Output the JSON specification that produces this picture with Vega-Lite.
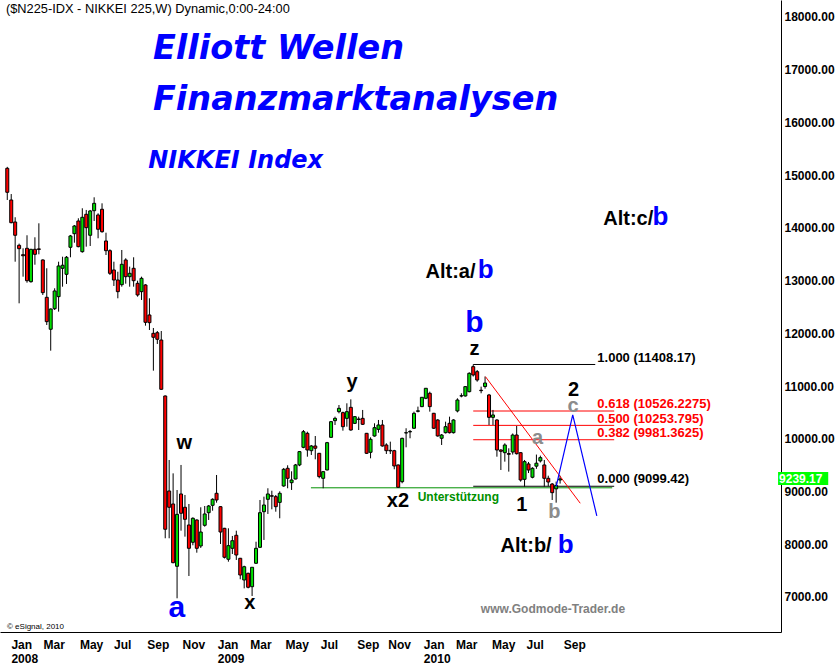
{
  "$schema": "https://vega.github.io/schema/vega-lite/v6.json",
  "width": 781,
  "height": 632,
  "autosize": {"type": "none"},
  "padding": {"left": 0, "top": 0, "right": 58, "bottom": 32},
  "background": "white",
  "config": {"view": {"stroke": null}, "font": "Liberation Sans"},
  "datasets": {
    "candles": [
      {"w":0,"o":15128,"h":15155,"l":14527,"c":14673},{"w":1,"o":14527,"h":14640,"l":14085,"c":14097},{"w":2,"o":14110,"h":14200,"l":13357,"c":13858},{"w":3,"o":13668,"h":13700,"l":12568,"c":13604},{"w":4,"o":13490,"h":13611,"l":13073,"c":13470},{"w":5,"o":13611,"h":13858,"l":12959,"c":12997},{"w":6,"o":12978,"h":13600,"l":12960,"c":13592},{"w":7,"o":13592,"h":13820,"l":13300,"c":13497},{"w":8,"o":13600,"h":14085,"l":13497,"c":13590},{"w":9,"o":13390,"h":13400,"l":12726,"c":12770},
      {"w":10,"o":12682,"h":13232,"l":12157,"c":12220},{"w":11,"o":12076,"h":12470,"l":11670,"c":12460},{"w":12,"o":12466,"h":12853,"l":12441,"c":12802},{"w":13,"o":12694,"h":13357,"l":12410,"c":13276},{"w":14,"o":13232,"h":13452,"l":12883,"c":13290},{"w":15,"o":13118,"h":13465,"l":12935,"c":13441},{"w":16,"o":13630,"h":13864,"l":13441,"c":13845},{"w":17,"o":13888,"h":14053,"l":13717,"c":14034},{"w":18,"o":14129,"h":14180,"l":13630,"c":13642},{"w":19,"o":13547,"h":14370,"l":13528,"c":14199},
      {"w":20,"o":14256,"h":14338,"l":13642,"c":14002},{"w":21,"o":13858,"h":14338,"l":13655,"c":14319},{"w":22,"o":14324,"h":14578,"l":14129,"c":14464},{"w":23,"o":14243,"h":14275,"l":13801,"c":13972},{"w":24,"o":14351,"h":14464,"l":13907,"c":13926},{"w":25,"o":13750,"h":13907,"l":13484,"c":13566},{"w":26,"o":13566,"h":13592,"l":13105,"c":13137},{"w":27,"o":13200,"h":13357,"l":12897,"c":13010},{"w":28,"o":13010,"h":13167,"l":12663,"c":12789},{"w":29,"o":12921,"h":13579,"l":12883,"c":13308},
      {"w":30,"o":13390,"h":13422,"l":12940,"c":13073},{"w":31,"o":13073,"h":13263,"l":12883,"c":13137},{"w":32,"o":13232,"h":13441,"l":12883,"c":12997},{"w":33,"o":12947,"h":12997,"l":12694,"c":12726},{"w":34,"o":12789,"h":13073,"l":12631,"c":13042},{"w":35,"o":12916,"h":12930,"l":12144,"c":12208},{"w":36,"o":12347,"h":12663,"l":12062,"c":12201},{"w":37,"o":11999,"h":12100,"l":11291,"c":11924},{"w":38,"o":12011,"h":12043,"l":11797,"c":11886},{"w":39,"o":11872,"h":12043,"l":10930,"c":10938},
      {"w":40,"o":10811,"h":10820,"l":8113,"c":8284},{"w":41,"o":9010,"h":9597,"l":8113,"c":8701},{"w":42,"o":8763,"h":9344,"l":7640,"c":7650},{"w":43,"o":7582,"h":9028,"l":6975,"c":8567},{"w":44,"o":8953,"h":9503,"l":8257,"c":8587},{"w":45,"o":8701,"h":8934,"l":8144,"c":8473},{"w":46,"o":8365,"h":8763,"l":7398,"c":7923},{"w":47,"o":8037,"h":8510,"l":7980,"c":8492},{"w":48,"o":8460,"h":8470,"l":7840,"c":7923},{"w":49,"o":7967,"h":8701,"l":7930,"c":8232},
      {"w":50,"o":8359,"h":8725,"l":8333,"c":8574},{"w":51,"o":8598,"h":8744,"l":8460,"c":8725},{"w":52,"o":8738,"h":8871,"l":8636,"c":8852},{"w":53,"o":8966,"h":9313,"l":8788,"c":8839},{"w":54,"o":8712,"h":8720,"l":8005,"c":8232},{"w":55,"o":8302,"h":8310,"l":7730,"c":7753},{"w":56,"o":7715,"h":8302,"l":7669,"c":7973},{"w":57,"o":7923,"h":8157,"l":7815,"c":8067},{"w":58,"o":8170,"h":8257,"l":7702,"c":7796},{"w":59,"o":7734,"h":7740,"l":7336,"c":7417},
      {"w":60,"o":7322,"h":7593,"l":7164,"c":7574},{"w":61,"o":7449,"h":7460,"l":7164,"c":7184},{"w":62,"o":7195,"h":7200,"l":7019,"c":7563},{"w":63,"o":7639,"h":8048,"l":7630,"c":7923},{"w":64,"o":7942,"h":8839,"l":7930,"c":8598},{"w":65,"o":8617,"h":8902,"l":8081,"c":8744},{"w":66,"o":8852,"h":9061,"l":8574,"c":8953},{"w":67,"o":8920,"h":9015,"l":8662,"c":8910},{"w":68,"o":8902,"h":8934,"l":8617,"c":8712},{"w":69,"o":8794,"h":9003,"l":8492,"c":8966},
      {"w":70,"o":9105,"h":9446,"l":9090,"c":9421},{"w":71,"o":9440,"h":9497,"l":9061,"c":9250},{"w":72,"o":9167,"h":9383,"l":9029,"c":9218},{"w":73,"o":9237,"h":9522,"l":9230,"c":9503},{"w":74,"o":9503,"h":9768,"l":9480,"c":9756},{"w":75,"o":9838,"h":10166,"l":9820,"c":10134},{"w":76,"o":10103,"h":10134,"l":9660,"c":9787},{"w":77,"o":9774,"h":9882,"l":9692,"c":9863},{"w":78,"o":9863,"h":10052,"l":9610,"c":9820},{"w":79,"o":9724,"h":9730,"l":9250,"c":9282},
      {"w":80,"o":9250,"h":9380,"l":9061,"c":9376},{"w":81,"o":9408,"h":9940,"l":9400,"c":9926},{"w":82,"o":10027,"h":10330,"l":10020,"c":10324},{"w":83,"o":10343,"h":10419,"l":10261,"c":10387},{"w":84,"o":10514,"h":10640,"l":10482,"c":10577},{"w":85,"o":10495,"h":10514,"l":10153,"c":10229},{"w":86,"o":10387,"h":10672,"l":10229,"c":10514},{"w":87,"o":10596,"h":10747,"l":10153,"c":10166},{"w":88,"o":10292,"h":10430,"l":10280,"c":10419},{"w":89,"o":10375,"h":10419,"l":10166,"c":10365},
      {"w":90,"o":10387,"h":10546,"l":10261,"c":10274},{"w":91,"o":10103,"h":10110,"l":9711,"c":9724},{"w":92,"o":9743,"h":10027,"l":9629,"c":9990},{"w":93,"o":10052,"h":10293,"l":10040,"c":10210},{"w":94,"o":10179,"h":10356,"l":10115,"c":10261},{"w":95,"o":10261,"h":10356,"l":9850,"c":9863},{"w":96,"o":9882,"h":9914,"l":9711,"c":9774},{"w":97,"o":9780,"h":9945,"l":9711,"c":9770},{"w":98,"o":9774,"h":9790,"l":9421,"c":9484},{"w":99,"o":9503,"h":9510,"l":9076,"c":9080},
      {"w":100,"o":9186,"h":10020,"l":9156,"c":10008},{"w":101,"o":10110,"h":10199,"l":9838,"c":10115},{"w":102,"o":10130,"h":10166,"l":10009,"c":10138},{"w":103,"o":10199,"h":10514,"l":10190,"c":10482},{"w":104,"o":10520,"h":10609,"l":10500,"c":10530},{"w":105,"o":10609,"h":10790,"l":10600,"c":10786},{"w":106,"o":10767,"h":10960,"l":10750,"c":10957},{"w":107,"o":10862,"h":10893,"l":10514,"c":10609},{"w":108,"o":10483,"h":10490,"l":10185,"c":10199},{"w":109,"o":10356,"h":10370,"l":10040,"c":10053},
      {"w":110,"o":10009,"h":10090,"l":9882,"c":10071},{"w":111,"o":10115,"h":10324,"l":10100,"c":10229},{"w":112,"o":10293,"h":10419,"l":10100,"c":10115},{"w":113,"o":10115,"h":10370,"l":10100,"c":10356},{"w":114,"o":10527,"h":10767,"l":10500,"c":10735},{"w":115,"o":10811,"h":10862,"l":10786,"c":10815},{"w":116,"o":10811,"h":11000,"l":10800,"c":10988},{"w":117,"o":10893,"h":11260,"l":10880,"c":11241},{"w":118,"o":11367,"h":11408,"l":11180,"c":11209},{"w":119,"o":11272,"h":11304,"l":11082,"c":11114},
      {"w":120,"o":10920,"h":10988,"l":10862,"c":10912},{"w":121,"o":10990,"h":11180,"l":10950,"c":11057},{"w":122,"o":10830,"h":10850,"l":10261,"c":10406},{"w":123,"o":10406,"h":10546,"l":10261,"c":10451},{"w":124,"o":10356,"h":10370,"l":9660,"c":9787},{"w":125,"o":9787,"h":9800,"l":9408,"c":9762},{"w":126,"o":9736,"h":9914,"l":9566,"c":9882},{"w":127,"o":9720,"h":9819,"l":9377,"c":9705},{"w":128,"o":9749,"h":10100,"l":9700,"c":10071},{"w":129,"o":10071,"h":10242,"l":9700,"c":9717},
      {"w":130,"o":9736,"h":9745,"l":9187,"c":9218},{"w":131,"o":9231,"h":9598,"l":9092,"c":9566},{"w":132,"o":9522,"h":9560,"l":9350,"c":9408},{"w":133,"o":9270,"h":9460,"l":9250,"c":9440},{"w":134,"o":9480,"h":9700,"l":9430,"c":9537},{"w":135,"o":9580,"h":9680,"l":9550,"c":9642},{"w":136,"o":9503,"h":9598,"l":9092,"c":9250},{"w":137,"o":9250,"h":9300,"l":9100,"c":9180},{"w":138,"o":9142,"h":9160,"l":8839,"c":8978},{"w":139,"o":9050,"h":9187,"l":8788,"c":9114},
      {"w":140,"o":9218,"h":9300,"l":9150,"c":9239}
    ],
    "levels": [
      {"w":76.9,"w2":153.2,"p":9070,"k":"support"},
      {"w":118,"w2":148.9,"p":11408.17,"k":"base"},
      {"w":118,"w2":153.7,"p":10526.23,"k":"fib"},
      {"w":118,"w2":153.7,"p":10253.8,"k":"fib"},
      {"w":118,"w2":153.7,"p":9981.36,"k":"fib"},
      {"w":118,"w2":153.7,"p":9099.42,"k":"base"}
    ],
    "trend": [{"w":121.1,"p":11177},{"w":145.1,"p":8777}],
    "path": [{"w":139,"p":9091,"s":1},{"w":143.2,"p":10451,"s":2},{"w":149.3,"p":8536,"s":3}],
    "lastprice": [{"w":195.2,"w2":207.9,"p":9239.17,"t":"9239.17"}]
  },
  "encoding": {
    "x": {"field": "w", "type": "quantitative",
      "scale": {"domain": [-0.575, 194.675], "nice": false, "zero": false},
      "axis": {"title": null, "ticks": false, "grid": false, "domainColor": "black", "domainWidth": 1,
        "values": [0.925,9.05,18.275,26.925,35.35,44.275,53.175,61.425,70.35,79.275,88.5,96.35,105.375,113.5,122.65,131.375,140.8],
        "labelExpr": "[['Jan','2008'],'Mar','May','Jul','Sep','Nov',['Jan','2009'],'Mar','May','Jul','Sep','Nov',['Jan','2010'],'Mar','May','Jul','Sep'][indexof([0.925,9.05,18.275,26.925,35.35,44.275,53.175,61.425,70.35,79.275,88.5,96.35,105.375,113.5,122.65,131.375,140.8], datum.value)]",
        "labelAlign": "left", "labelBaseline": "top", "labelFont": "Liberation Sans", "labelFontWeight": "bold",
        "labelFontSize": 12, "labelColor": "black", "labelPadding": 7, "labelOverlap": false, "labelFlush": false,
        "labelBound": false, "labelLineHeight": 14}
    },
    "y": {"field": "p", "type": "quantitative", "title": null,
      "scale": {"domain": [6336, 18319], "nice": false, "zero": false},
      "axis": {"orient": "right", "title": null, "ticks": false, "grid": false, "domainColor": "black",
        "values": [7000,8000,9000,10000,11000,12000,13000,14000,15000,16000,17000,18000],
        "format": ".2f", "labelFont": "Liberation Sans", "labelFontWeight": "bold", "labelFontSize": 12,
        "labelColor": "black", "labelPadding": 3, "labelBaseline": "middle", "labelOverlap": false, "labelFlush": false, "labelBound": false}
    }
  },
  "layer": [
    {
      "data": {"name": "levels"},
      "mark": {"type": "rule", "strokeWidth": 1},
      "encoding": {
        "x2": {"field": "w2"},
        "color": {"field": "k", "type": "nominal", "scale": {"domain": ["base","fib","support"], "range": ["#000000","#ff0000","#009000"]}, "legend": null}
      }
    },
    {
      "data": {"name": "candles"},
      "mark": {"type": "rule", "color": "black", "strokeWidth": 1},
      "encoding": {
        "y": {"field": "l", "type": "quantitative", "title": null},
        "y2": {"field": "h"}
      }
    },
    {
      "data": {"name": "candles"},
      "mark": {"type": "bar", "width": 3, "stroke": "black", "strokeWidth": 1},
      "encoding": {
        "y": {"field": "o", "type": "quantitative", "title": null},
        "y2": {"field": "c"},
        "fill": {"condition": {"test": "datum.c >= datum.o", "value": "#00e000"}, "value": "#ff0000"}
      }
    },
    {
      "data": {"name": "trend"},
      "mark": {"type": "line", "color": "#ff0000", "strokeWidth": 1}
    },
    {
      "data": {"name": "path"},
      "mark": {"type": "line", "color": "#0000ff", "strokeWidth": 1.2},
      "encoding": {"order": {"field": "s"}}
    },
    {
      "data": {"values": [{"t": "($N225-IDX - NIKKEI 225,W) Dynamic,0:00-24:00", "w": -0.325, "p": 18078}]},
      "mark": {"type": "text", "align": "left", "baseline": "alphabetic", "font": "Liberation Sans", "fontSize": 12.8, "color": "black"},
      "encoding": {"text": {"field": "t"}}
    },
    {
      "data": {"values": [{"t": "Elliott Wellen", "w": 36.9, "p": 17200}, {"t": "Finanzmarktanalysen", "w": 36.9, "p": 16234}]},
      "mark": {"type": "text", "align": "left", "baseline": "alphabetic", "font": "DejaVu Sans", "fontSize": 33.5, "fontWeight": "bold", "fontStyle": "italic", "color": "#0000ff"},
      "encoding": {"text": {"field": "t"}}
    },
    {
      "data": {"values": [{"t": "NIKKEI Index", "w": 35.7, "p": 15134}]},
      "mark": {"type": "text", "align": "left", "baseline": "alphabetic", "font": "DejaVu Sans", "fontSize": 24, "fontWeight": "bold", "fontStyle": "italic", "color": "#0000ff"},
      "encoding": {"text": {"field": "t"}}
    },
    {
      "data": {"values": [
        {"t": "w", "w": 44.8, "p": 9806}, {"t": "x", "w": 61.425, "p": 6772}, {"t": "y", "w": 87.3, "p": 10953},
        {"t": "x2", "w": 98.925, "p": 8712}, {"t": "z", "w": 118.3, "p": 11588}, {"t": "1", "w": 130.3, "p": 8631}, {"t": "2", "w": 143.425, "p": 10805}]},
      "mark": {"type": "text", "align": "center", "baseline": "alphabetic", "font": "Liberation Sans", "fontSize": 20, "fontWeight": "bold", "color": "black"},
      "encoding": {"text": {"field": "t"}}
    },
    {
      "data": {"values": [{"t": "a", "w": 42.925, "p": 6621}, {"t": "b", "w": 118.3, "p": 12024}]},
      "mark": {"type": "text", "align": "center", "baseline": "alphabetic", "font": "Liberation Sans", "fontSize": 30, "fontWeight": "bold", "color": "#0000ff"},
      "encoding": {"text": {"field": "t"}}
    },
    {
      "data": {"values": [{"t": "a", "w": 134.3, "p": 9901}, {"t": "b", "w": 138.55, "p": 8498}, {"t": "c", "w": 143.3, "p": 10500}]},
      "mark": {"type": "text", "align": "center", "baseline": "alphabetic", "font": "Liberation Sans", "fontSize": 20, "fontWeight": "bold", "color": "#8c8c8c"},
      "encoding": {"text": {"field": "t"}}
    },
    {
      "data": {"values": [{"t": "Alt:a/", "w": 105.925, "p": 13048}, {"t": "Alt:b/", "w": 124.925, "p": 7853}, {"t": "Alt:c/", "w": 150.925, "p": 14053}]},
      "mark": {"type": "text", "align": "left", "baseline": "alphabetic", "font": "Liberation Sans", "fontSize": 20, "fontWeight": "bold", "color": "black"},
      "encoding": {"text": {"field": "t"}}
    },
    {
      "data": {"values": [{"t": "b", "w": 119.175, "p": 13048}, {"t": "b", "w": 139.425, "p": 7834}, {"t": "b", "w": 163.425, "p": 14053}]},
      "mark": {"type": "text", "align": "left", "baseline": "alphabetic", "font": "Liberation Sans", "fontSize": 26, "fontWeight": "bold", "color": "#0000ff"},
      "encoding": {"text": {"field": "t"}}
    },
    {
      "data": {"values": [{"t": "1.000 (11408.17)", "w": 149.425, "p": 11456}, {"t": "0.000 (9099.42)", "w": 149.425, "p": 9161}]},
      "mark": {"type": "text", "align": "left", "baseline": "alphabetic", "font": "Liberation Sans", "fontSize": 13, "fontWeight": "bold", "color": "black"},
      "encoding": {"text": {"field": "t"}}
    },
    {
      "data": {"values": [{"t": "0.618 (10526.2275)", "w": 149.425, "p": 10583}, {"t": "0.500 (10253.795)", "w": 149.425, "p": 10299}, {"t": "0.382 (9981.3625)", "w": 149.425, "p": 10034}]},
      "mark": {"type": "text", "align": "left", "baseline": "alphabetic", "font": "Liberation Sans", "fontSize": 13, "fontWeight": "bold", "color": "#ff0000"},
      "encoding": {"text": {"field": "t"}}
    },
    {
      "data": {"values": [{"t": "Unterstützung", "w": 103.925, "p": 8820}]},
      "mark": {"type": "text", "align": "left", "baseline": "alphabetic", "font": "Liberation Sans", "fontSize": 12, "fontWeight": "bold", "color": "#009000"},
      "encoding": {"text": {"field": "t"}}
    },
    {
      "data": {"values": [{"t": "www.Godmode-Trader.de", "w": 119.925, "p": 6697}]},
      "mark": {"type": "text", "align": "left", "baseline": "alphabetic", "font": "Liberation Sans", "fontSize": 12, "fontWeight": "bold", "color": "#808080"},
      "encoding": {"text": {"field": "t"}}
    },
    {
      "data": {"values": [{"t": "© eSignal, 2010", "w": -0.075, "p": 6400}]},
      "mark": {"type": "text", "align": "left", "baseline": "alphabetic", "font": "Liberation Sans", "fontSize": 8, "color": "black"},
      "encoding": {"text": {"field": "t"}}
    },
    {
      "data": {"name": "lastprice"},
      "mark": {"type": "rect", "color": "#00ff00", "yOffset": -7, "y2Offset": 6},
      "encoding": {
        "x2": {"field": "w2"},
        "y2": {"field": "p"}
      }
    },
    {
      "data": {"name": "lastprice"},
      "mark": {"type": "text", "align": "left", "baseline": "middle", "font": "Liberation Sans", "fontSize": 12, "fontWeight": "bold", "color": "white", "dx": 1},
      "encoding": {"text": {"field": "t"}}
    }
  ]
}
